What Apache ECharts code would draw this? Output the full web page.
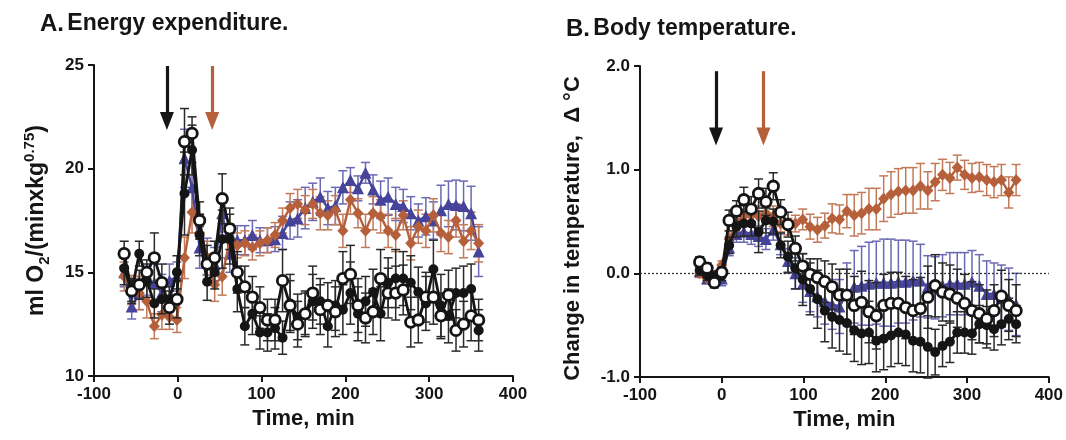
<!DOCTYPE html>
<html>
<head>
<meta charset="utf-8">
<script src="https://cdn.jsdelivr.net/npm/echarts@6/dist/echarts.min.js"></script>
<style>
html,body{margin:0;padding:0;background:#fff;}
#c{width:1066px;height:440px;}
</style>
</head>
<body>
<div id="c"></div>
<script>
// ---------- Panel A: energy expenditure ----------
const timesA = [-64,-55,-46,-37,-28,-19,-10,-1,8,17,26,35,44,53,62,71,80,89,98,107,116,125,134,143,152,161,170,179,188,197,206,215,224,233,242,251,260,269,278,287,296,305,314,323,332,341,350,359];
const openA = [15.9,14.1,14.4,15.0,15.7,14.5,13.3,13.7,21.3,21.7,17.5,15.4,15.7,18.55,17.1,15.0,14.3,13.8,13.3,12.7,12.7,14.6,13.4,12.5,13.0,14.0,13.2,13.4,13.1,14.7,14.9,13.4,12.8,13.1,14.7,14.0,14.0,14.15,12.6,12.7,13.8,13.8,12.9,13.9,12.2,12.5,12.9,12.7];
const openAErr = [0.6,0.5,0.7,0.6,1.2,0.9,0.8,0.9,1.6,0.8,0.9,0.9,0.8,1.2,1.0,1.0,1.0,1.0,1.0,1.0,1.0,1.5,1.2,1.1,1.1,1.3,1.2,1.1,1.2,1.3,1.4,1.3,1.2,1.1,1.4,1.2,1.3,1.2,1.2,1.1,1.2,1.3,1.1,1.2,1.0,1.1,1.2,1.0];
const filledA = [15.2,14.1,15.9,14.6,13.5,13.7,13.7,15.0,18.8,20.9,16.8,14.55,15.0,16.6,16.6,14.2,12.4,13.0,12.1,12.1,12.3,11.85,13.5,12.85,13.0,13.6,13.6,12.4,13.4,13.2,14.0,13.0,13.6,14.05,13.0,14.5,14.7,14.7,14.5,14.05,13.5,15.15,13.4,12.9,14.0,14.0,14.2,12.2];
const filledAErr = [0.8,0.6,0.6,0.8,0.7,0.7,0.6,0.8,2.0,1.2,1.0,0.9,0.8,1.4,1.2,1.1,0.9,1.0,0.8,0.9,1.0,0.8,1.4,1.1,1.0,1.3,1.1,1.0,1.2,1.2,1.5,1.3,1.2,1.1,1.3,1.2,1.4,1.3,1.3,1.2,1.3,1.4,1.5,1.3,1.2,1.3,1.2,1.0];
const blueA = [15.0,13.35,14.0,14.6,14.5,14.0,14.6,14.8,20.5,19.1,16.2,15.75,15.4,17.85,15.9,16.55,16.55,16.8,16.55,16.55,16.6,16.9,17.5,17.6,18.1,18.4,18.65,18.1,18.2,19.1,19.45,19.05,19.8,19.0,18.5,18.65,18.3,18.2,17.85,17.5,17.7,17.5,18.0,18.3,18.25,18.2,17.85,16.0];
const blueAErr = [0.7,0.6,0.8,0.7,0.9,0.9,0.8,0.7,1.4,1.2,1.0,0.9,0.8,0.9,0.9,0.7,0.7,0.7,0.6,0.6,0.6,0.8,0.9,0.9,1.0,0.9,0.9,0.8,0.9,0.8,0.6,0.6,0.5,0.7,0.9,0.9,0.8,0.8,0.8,0.8,0.9,0.9,1.2,1.1,1.2,1.2,1.3,1.2];
const orangeA = [14.8,14.15,14.0,13.6,12.4,12.95,12.85,12.7,15.7,17.9,16.9,15.7,14.4,14.8,16.55,16.3,16.4,16.2,16.4,16.55,16.8,17.5,18.1,18.3,18.0,18.3,17.85,17.75,18.0,17.0,18.5,17.85,17.0,17.85,17.7,17.0,16.8,17.75,16.4,17.2,17.0,17.75,16.9,16.7,17.5,16.5,17.0,16.4];
const orangeAErr = [0.7,0.7,0.8,0.8,0.6,0.7,0.6,0.6,1.0,1.0,0.9,0.8,0.8,0.9,0.8,0.6,0.6,0.6,0.6,0.6,0.6,0.6,0.7,0.7,0.7,0.7,0.8,0.7,0.7,0.8,0.7,0.7,0.8,0.8,0.8,0.8,0.8,0.7,0.8,0.8,0.8,0.8,0.9,0.8,0.8,0.8,0.9,0.9];
const arrowTimesA = [-13, 41];
const arrowSpanA = [24.95, 22.3];

// ---------- Panel B: body temperature ----------
const timesB = [-27,-18,-9,0,9,18,27,36,45,54,63,72,81,90,99,108,117,126,135,144,153,162,171,180,189,198,207,216,225,234,243,252,261,270,279,288,297,306,315,324,333,342,351,360];
const openB = [0.11,0.05,-0.09,0.01,0.51,0.60,0.71,0.62,0.77,0.69,0.84,0.59,0.47,0.24,0.07,-0.01,-0.04,-0.08,-0.13,-0.21,-0.21,-0.31,-0.28,-0.37,-0.41,-0.31,-0.29,-0.29,-0.33,-0.36,-0.34,-0.23,-0.12,-0.18,-0.20,-0.24,-0.29,-0.36,-0.39,-0.44,-0.36,-0.22,-0.31,-0.36];
const openBErr = [0.05,0.05,0.05,0.05,0.1,0.1,0.12,0.12,0.14,0.13,0.13,0.12,0.12,0.12,0.12,0.15,0.18,0.2,0.22,0.25,0.25,0.28,0.3,0.3,0.32,0.3,0.3,0.3,0.3,0.3,0.3,0.3,0.3,0.28,0.28,0.28,0.28,0.28,0.28,0.28,0.25,0.25,0.25,0.25];
const filledB = [0.03,-0.02,-0.03,-0.02,0.27,0.45,0.48,0.48,0.40,0.51,0.50,0.27,0.16,0.05,-0.06,-0.15,-0.25,-0.36,-0.42,-0.45,-0.48,-0.55,-0.58,-0.57,-0.65,-0.63,-0.60,-0.57,-0.59,-0.65,-0.66,-0.71,-0.76,-0.70,-0.66,-0.57,-0.57,-0.58,-0.49,-0.50,-0.54,-0.49,-0.44,-0.49];
const filledBErr = [0.05,0.05,0.05,0.05,0.08,0.1,0.12,0.12,0.2,0.12,0.12,0.12,0.15,0.2,0.25,0.25,0.28,0.3,0.3,0.3,0.3,0.3,0.3,0.3,0.3,0.3,0.3,0.3,0.3,0.3,0.3,0.3,0.22,0.2,0.2,0.2,0.2,0.2,0.18,0.18,0.2,0.2,0.2,0.18];
const blueB = [0.02,-0.05,-0.06,-0.05,0.25,0.38,0.40,0.38,0.36,0.33,0.42,0.28,0.12,0.0,-0.1,-0.17,-0.22,-0.27,-0.30,-0.32,-0.20,-0.13,-0.12,-0.10,-0.09,-0.09,-0.09,-0.08,-0.08,-0.07,-0.07,-0.13,-0.14,-0.12,-0.10,-0.10,-0.10,-0.08,-0.12,-0.20,-0.20,-0.22,-0.25,-0.30];
const blueBErr = [0.05,0.05,0.07,0.07,0.08,0.08,0.1,0.1,0.1,0.1,0.1,0.1,0.12,0.15,0.18,0.2,0.2,0.22,0.24,0.26,0.3,0.35,0.38,0.4,0.4,0.42,0.42,0.4,0.4,0.38,0.35,0.3,0.3,0.3,0.3,0.3,0.3,0.3,0.3,0.32,0.3,0.3,0.3,0.3];
const orangeB = [0.0,-0.05,-0.02,0.08,0.33,0.50,0.55,0.56,0.55,0.58,0.55,0.48,0.45,0.48,0.52,0.45,0.42,0.46,0.53,0.52,0.60,0.56,0.58,0.62,0.62,0.72,0.76,0.79,0.80,0.80,0.84,0.80,0.88,0.95,0.92,1.02,0.95,0.92,0.93,0.90,0.88,0.90,0.78,0.90];
const orangeBErr = [0.04,0.04,0.04,0.04,0.08,0.1,0.1,0.1,0.1,0.1,0.1,0.08,0.08,0.08,0.1,0.12,0.12,0.12,0.14,0.14,0.16,0.2,0.2,0.2,0.2,0.22,0.22,0.22,0.22,0.22,0.22,0.18,0.18,0.15,0.15,0.12,0.14,0.14,0.14,0.15,0.15,0.15,0.15,0.15];
const arrowTimesB = [-7, 51];
const arrowSpanB = [1.95, 1.32];

// ---------- styling ----------
const FONT = 'Liberation Sans, Arial, sans-serif';
const BLACK = '#151515';
const BLUE = '#46449a';
const BLUE_ERR = '#6b69b3';
const BROWN = '#b5603b';
const BROWN_ERR = '#c27a58';

function pairs(t, v) { return t.map((x, i) => [x, v[i]]); }

function errSeries(ax, t, v, e, color, z) {
  return {
    type: 'custom', xAxisIndex: ax, yAxisIndex: ax, z: z, silent: true,
    data: t.map((x, i) => [x, v[i] - e[i], v[i] + e[i]]),
    encode: { x: 0, y: [1, 2] },
    renderItem: function (params, api) {
      const lo = api.coord([api.value(0), api.value(1)]);
      const hi = api.coord([api.value(0), api.value(2)]);
      const w = 4.5;
      const st = { stroke: color, lineWidth: 1.5 };
      return { type: 'group', children: [
        { type: 'line', shape: { x1: lo[0], y1: lo[1], x2: hi[0], y2: hi[1] }, style: st },
        { type: 'line', shape: { x1: lo[0] - w, y1: lo[1], x2: lo[0] + w, y2: lo[1] }, style: st },
        { type: 'line', shape: { x1: hi[0] - w, y1: hi[1], x2: hi[0] + w, y2: hi[1] }, style: st }
      ]};
    }
  };
}

function lineSeries(ax, t, v, kind, z) {
  const s = { type: 'line', xAxisIndex: ax, yAxisIndex: ax, z: z, data: pairs(t, v), silent: true };
  if (kind === 'open') {
    s.symbol = 'circle'; s.symbolSize = 10.5;
    s.itemStyle = { color: '#ffffff', borderColor: BLACK, borderWidth: 2.8 };
    s.lineStyle = { color: BLACK, width: 2.8 };
  } else if (kind === 'filled') {
    s.symbol = 'circle'; s.symbolSize = 10;
    s.itemStyle = { color: BLACK, borderColor: BLACK, borderWidth: 0 };
    s.lineStyle = { color: BLACK, width: 2.8 };
  } else if (kind === 'blue') {
    s.symbol = 'triangle'; s.symbolSize = 12;
    s.itemStyle = { color: BLUE };
    s.lineStyle = { color: BLUE, width: 2.4 };
  } else {
    s.symbol = 'diamond'; s.symbolSize = [11, 12];
    s.itemStyle = { color: BROWN };
    s.lineStyle = { color: BROWN, width: 2.4 };
  }
  return s;
}

function arrowSeries(ax, times, span) {
  const cols = [BLACK, BROWN];
  return {
    type: 'line', xAxisIndex: ax, yAxisIndex: ax, data: [], z: 20, silent: true,
    markLine: {
      silent: true, animation: false,
      symbol: ['none', 'triangle'], symbolSize: [14, 18],
      label: { show: false },
      data: times.map((t, i) => [
        { coord: [t, span[0]], lineStyle: { color: cols[i], width: 3.2, type: 'solid' }, itemStyle: { color: cols[i] } },
        { coord: [t, span[1]] }
      ])
    }
  };
}

const axisLabel = { color: BLACK, fontFamily: FONT, fontWeight: 'bold', fontSize: 17, margin: 10 };
const axisLine = { show: true, onZero: false, lineStyle: { color: BLACK, width: 2 } };
const axisTick = { show: true, length: 6, inside: false, lineStyle: { color: BLACK, width: 2 } };
const nameStyle = { color: BLACK, fontFamily: FONT, fontWeight: 'bold', fontSize: 22 };
const titleRich = {
  b: { fontSize: 24, fontWeight: 'bold', fontFamily: FONT, fill: BLACK },
  n: { fontSize: 23, fontWeight: 'bold', fontFamily: FONT, fill: BLACK }
};

const chart = echarts.init(document.getElementById('c'), null, { renderer: 'canvas' });
chart.setOption({
  animation: false,
  backgroundColor: '#ffffff',
  graphic: [
    { type: 'text', left: 40, top: 12, style: { text: '{b|A.} {n|Energy expenditure.}', rich: titleRich } },
    { type: 'text', left: 566, top: 17, style: { text: '{b|B.} {n|Body temperature.}', rich: titleRich } }
  ],
  grid: [
    { left: 94, top: 65, width: 419, height: 311 },
    { left: 640, top: 66, width: 409, height: 311 }
  ],
  xAxis: [
    { type: 'value', gridIndex: 0, min: -100, max: 400, interval: 100, splitLine: { show: false },
      axisLine: axisLine, axisTick: axisTick, axisLabel: axisLabel,
      name: 'Time, min', nameLocation: 'middle', nameGap: 22, nameTextStyle: nameStyle },
    { type: 'value', gridIndex: 1, min: -100, max: 400, interval: 100, splitLine: { show: false },
      axisLine: axisLine, axisTick: axisTick, axisLabel: axisLabel,
      name: 'Time, min', nameLocation: 'middle', nameGap: 31, nameTextStyle: nameStyle }
  ],
  yAxis: [
    { type: 'value', gridIndex: 0, min: 10, max: 25, interval: 5, splitLine: { show: false },
      axisLine: axisLine, axisTick: axisTick, axisLabel: axisLabel,
      name: '{a|ml O}{s|2}{a|/(minxkg}{p|0.75}{a|)}', nameLocation: 'middle', nameGap: 42, nameRotate: 90,
      nameTextStyle: { color: BLACK, fontFamily: FONT, fontWeight: 'bold', fontSize: 23,
        rich: {
          a: { fontFamily: FONT, fontWeight: 'bold', fontSize: 23, color: BLACK, lineHeight: 30 },
          s: { fontFamily: FONT, fontWeight: 'bold', fontSize: 15, color: BLACK, lineHeight: 14, verticalAlign: 'bottom' },
          p: { fontFamily: FONT, fontWeight: 'bold', fontSize: 15, color: BLACK, lineHeight: 14, verticalAlign: 'top' }
        } } },
    { type: 'value', gridIndex: 1, min: -1, max: 2, interval: 1, splitLine: { show: false },
      axisLine: axisLine, axisTick: axisTick,
      axisLabel: Object.assign({}, axisLabel, { formatter: v => v.toFixed(1) }),
      name: 'Change in temperature,  \u0394 \u00B0C', nameLocation: 'middle', nameGap: 56, nameRotate: 90,
      nameTextStyle: Object.assign({}, nameStyle, { padding: [0, 14, 0, 0] }) }
  ],
  series: [
    // Panel A
    errSeries(0, timesA, blueA, blueAErr, BLUE_ERR, 1),
    errSeries(0, timesA, orangeA, orangeAErr, BROWN_ERR, 1),
    lineSeries(0, timesA, blueA, 'blue', 2),
    lineSeries(0, timesA, orangeA, 'orange', 3),
    errSeries(0, timesA, filledA, filledAErr, '#2a2a2a', 4),
    errSeries(0, timesA, openA, openAErr, '#2a2a2a', 4),
    lineSeries(0, timesA, filledA, 'filled', 5),
    lineSeries(0, timesA, openA, 'open', 6),
    arrowSeries(0, arrowTimesA, arrowSpanA),
    // Panel B
    errSeries(1, timesB, blueB, blueBErr, BLUE_ERR, 1),
    errSeries(1, timesB, orangeB, orangeBErr, BROWN_ERR, 1),
    Object.assign(lineSeries(1, timesB, blueB, 'blue', 2), {
      markLine: { silent: true, symbol: 'none', label: { show: false },
        lineStyle: { type: [2, 2], color: '#333', width: 1.3 }, data: [{ yAxis: 0 }] } }),
    lineSeries(1, timesB, orangeB, 'orange', 3),
    errSeries(1, timesB, filledB, filledBErr, '#2a2a2a', 4),
    errSeries(1, timesB, openB, openBErr, '#2a2a2a', 4),
    lineSeries(1, timesB, filledB, 'filled', 5),
    lineSeries(1, timesB, openB, 'open', 6),
    arrowSeries(1, arrowTimesB, arrowSpanB)
  ]
});
</script>
</body>
</html>
